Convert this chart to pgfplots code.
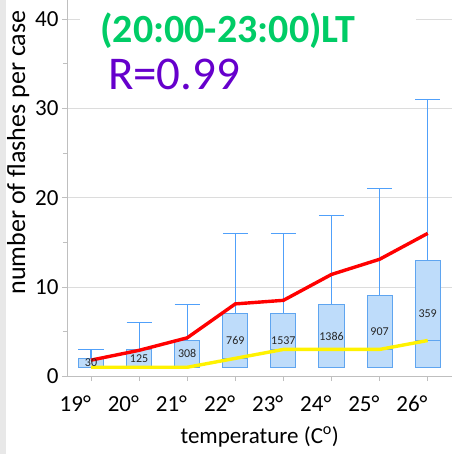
\documentclass[border=0pt]{standalone}
\usepackage{fontspec}
\setmainfont{Carlito}
\usepackage{pgfplots}
\pgfplotsset{compat=1.18}
\usepgfplotslibrary{statistics}
\definecolor{boxfill}{RGB}{190,220,250}
\definecolor{boxedge}{RGB}{95,165,240}
\definecolor{whisk}{RGB}{80,160,250}
\definecolor{ttlgreen}{RGB}{0,204,102}
\definecolor{rpurple}{RGB}{102,0,204}
\definecolor{axgray}{RGB}{191,191,191}
\definecolor{gridgray}{RGB}{220,220,220}
\definecolor{stripgray}{RGB}{232,232,232}
\pgfplotsset{
  boxplot/every whisker/.style={solid, draw=whisk, line width=1.2pt},
  boxplot/every box/.style={solid, draw=boxedge, fill=boxfill, line width=1pt},
  boxplot/every median/.style={solid, draw=boxedge, line width=1pt},
}
\begin{document}
\begin{tikzpicture}
\begin{axis}[
  scale only axis, width=385pt, height=376pt,
  xmin=-0.5, xmax=7.5, ymin=0, ymax=42.1,
  axis x line*=bottom, axis y line*=left,
  axis line style={draw=axgray, line width=0.8pt},
  xtick={0,...,7},
  xticklabels={19°,20°,21°,22°,23°,24°,25°,26°},
  xticklabel style={anchor=north east, inner xsep=0pt, yshift=-11pt, font=\fontsize{23}{23}\selectfont},
  ytick={0,10,20,30,40},
  minor ytick={5,15,25,35},
  yticklabel style={font=\fontsize{23}{23}\selectfont},
  /pgf/number format/assume math mode=true,
  tick style={draw=axgray, line width=0.8pt},
  tick align=outside, major tick length=5pt, minor tick length=4pt,
  ymajorgrids, major grid style={draw=gridgray, line width=0.8pt},
  xlabel={temperature (C\textsuperscript{o})},
  xlabel style={font=\fontsize{23}{23}\selectfont, at={(axis description cs:0.501,-0.18)}, anchor=base},
  ylabel={number of flashes per case},
  ylabel style={font=\fontsize{26}{26}\selectfont, at={(axis description cs:-0.127,0.595)}, anchor=center, rotate=0},
  clip=false,
  boxplot/draw direction=y,
  boxplot/box extend=0.52,
  boxplot/whisker extend=0.52,
]
\fill[stripgray] (axis description cs:-0.174,-0.207) rectangle (axis description cs:-0.158,1);
\addplot[color=whisk, boxplot prepared={draw position=0, lower whisker=1, lower quartile=1, median=1, upper quartile=2, upper whisker=3}] coordinates {};
\addplot[color=whisk, boxplot prepared={draw position=1, lower whisker=1, lower quartile=1, median=1, upper quartile=3, upper whisker=6}] coordinates {};
\addplot[color=whisk, boxplot prepared={draw position=2, lower whisker=1, lower quartile=1, median=1, upper quartile=4, upper whisker=8}] coordinates {};
\addplot[color=whisk, boxplot prepared={draw position=3, lower whisker=1, lower quartile=1, median=2, upper quartile=7, upper whisker=16}] coordinates {};
\addplot[color=whisk, boxplot prepared={draw position=4, lower whisker=1, lower quartile=1, median=3, upper quartile=7, upper whisker=16}] coordinates {};
\addplot[color=whisk, boxplot prepared={draw position=5, lower whisker=1, lower quartile=1, median=3, upper quartile=8, upper whisker=18}] coordinates {};
\addplot[color=whisk, boxplot prepared={draw position=6, lower whisker=1, lower quartile=1, median=3, upper quartile=9, upper whisker=21}] coordinates {};
\addplot[color=whisk, boxplot prepared={draw position=7, lower whisker=1, lower quartile=1, median=4, upper quartile=13, upper whisker=31}] coordinates {};
% case counts at box middles
\addplot[draw=none, mark=none, nodes near coords, point meta=explicit symbolic,
  every node near coord/.style={anchor=center, inner sep=0pt, font=\fontsize{12}{12}\selectfont, text=black!85}]
  table[meta=label] {
x y label
0 1.5 30
1 2 125
2 2.5 308
3 4 769
4 4 1537
5 4.5 1386
6 5 907
7 7 359
};
% mean
\addplot[red, line width=3.4pt, mark=none] coordinates {
(0,1.8) (1,2.9) (2,4.3) (3,8.1) (4,8.5) (5,11.4) (6,13.1) (7,16.0)};
% median
\addplot[yellow, line width=3.4pt, mark=none] coordinates {
(0,1) (1,1) (2,1) (3,2) (4,3) (5,3) (6,3) (7,4)};
\fill[white] (axis cs:-0.23,36.6) rectangle (axis cs:6.75,42.1);
\node[anchor=base west, inner sep=0pt, text=ttlgreen, font=\bfseries\fontsize{40}{40}\selectfont] at (axis cs:0.19,37.36) {(20:00-23:00)LT};
\node[anchor=base west, inner sep=0pt, text=rpurple, font=\fontsize{47}{47}\selectfont] at (axis cs:0.35,32.1) {R=0.99};
\end{axis}
\end{tikzpicture}
\end{document}
